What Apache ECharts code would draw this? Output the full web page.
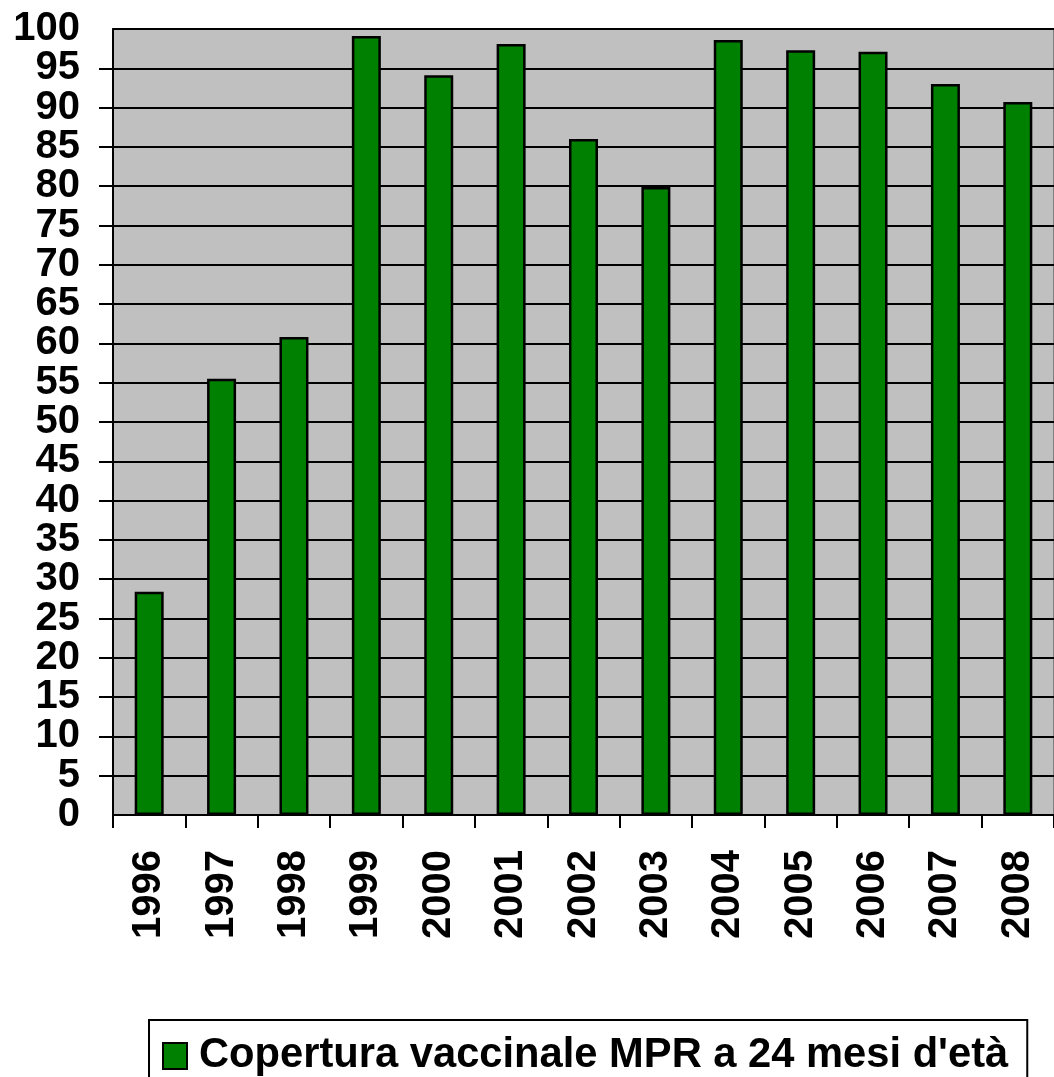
<!DOCTYPE html>
<html style="height: 100%">
<head>
<meta charset="utf-8">
<script type="text/javascript" src="https://cdn.jsdelivr.net/npm/echarts@6/dist/echarts.min.js"></script>
</head>
<body style="height: 100%; margin: 0; background: #ffffff">
<div id="container" style="width: 1054px; height: 1077px"></div>
<script type="text/javascript">
var YEARS = ['1996', '1997', '1998', '1999', '2000', '2001', '2002', '2003', '2004', '2005', '2006', '2007', '2008'];
var COPERTURA = [28.4, 55.5, 60.8, 99.1, 94.1, 98.1, 86.0, 79.9, 98.6, 97.3, 97.1, 93.0, 90.7];
var SERIE = "Copertura vaccinale MPR a 24 mesi d'et\u00e0";

var FONT = 'Arial, "Liberation Sans", sans-serif';

var dom = document.getElementById('container');
var myChart = echarts.init(dom);

var labelStyle = {
    margin: 33,
    fontFamily: FONT,
    fontSize: 40,
    fontWeight: 'bold',
    color: '#000000'
};

var option = {
    backgroundColor: '#ffffff',
    animation: false,
    grid: {
        left: 113,
        top: 29,
        right: -7,
        bottom: 262,
        show: true,
        backgroundColor: '#c0c0c0',
        borderColor: '#808080',
        borderWidth: 2
    },
    legend: {
        data: [SERIE],
        left: 149,
        top: 1020,
        padding: [15, 19, 20, 13],
        borderColor: '#000000',
        borderWidth: 2,
        itemWidth: 24,
        itemHeight: 26,
        icon: 'rect',
        textStyle: {
            fontFamily: FONT,
            fontSize: 41.7,
            fontWeight: 'bold',
            color: '#000000',
            padding: [0, 0, 0, 7]
        }
    },
    xAxis: {
        type: 'category',
        data: YEARS,
        axisLine: {lineStyle: {color: '#000000', width: 2}},
        axisTick: {show: true, length: 13, lineStyle: {color: '#000000', width: 2}},
        axisLabel: {
            rotate: 90,
            margin: 35,
            interval: 0,
            fontFamily: FONT,
            fontSize: 40,
            fontWeight: 'bold',
            color: '#000000'
        }
    },
    yAxis: [{
        // main axis: line, ticks, grid and the labels 5..95
        type: 'value',
        min: 0,
        max: 100,
        interval: 5,
        position: 'left',
        axisLine: {show: true, lineStyle: {color: '#000000', width: 2}},
        axisTick: {show: true, length: 14, lineStyle: {color: '#000000', width: 2}},
        splitLine: {show: true, lineStyle: {color: '#000000', width: 2}},
        axisLabel: Object.assign({showMinLabel: false, showMaxLabel: false}, labelStyle)
    }, {
        // only 0 and 100 (the overlap check would hide them otherwise)
        type: 'value',
        min: 0,
        max: 100,
        interval: 100,
        position: 'left',
        offset: 0,
        axisLine: {show: false},
        axisTick: {show: false},
        splitLine: {show: false},
        axisLabel: labelStyle
    }],
    series: [{
        name: SERIE,
        type: 'bar',
        data: COPERTURA,
        barWidth: 29,
        itemStyle: {
            color: '#008000',
            borderColor: '#000000',
            borderWidth: 2.5
        }
    }]
};
myChart.setOption(option);
</script>
</body>
</html>
